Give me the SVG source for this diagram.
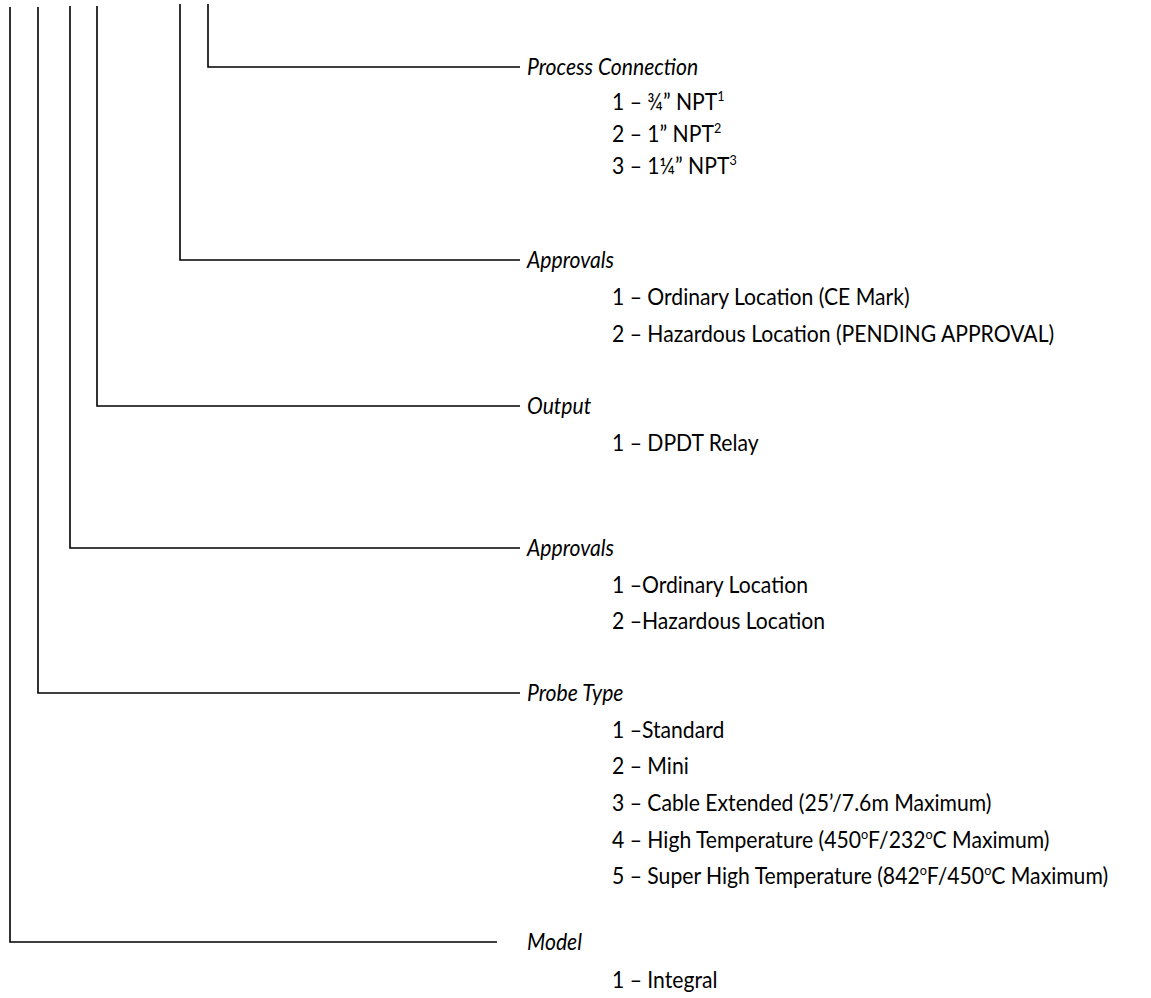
<svg xmlns="http://www.w3.org/2000/svg" width="1151" height="998" viewBox="0 0 1151 998">
<style>
.ln{stroke:#000;stroke-width:1.6;fill:none}
.lbl{font-family:Lato,"Liberation Sans",sans-serif;font-size:23.5px;font-style:italic;fill:#000}
.it{font-family:Lato,"Liberation Sans",sans-serif;font-size:23.5px;fill:#000}
.sup{font-size:14px}
</style>
<rect width="1151" height="998" fill="#fff"/>
<g id="connectors">
<path class="ln" d="M208,4 V67 H520"/>
<path class="ln" d="M180,4 V260 H520"/>
<path class="ln" d="M97,6 V406 H520"/>
<path class="ln" d="M70,6 V548 H520"/>
<path class="ln" d="M38,7 V693 H520"/>
<path class="ln" d="M10,7 V942 H497"/>
</g>
<g id="process-connection">
<text class="lbl" transform="translate(527,0) scale(0.9,1)" x="0" y="75">Process Connection</text>
<text class="it" transform="translate(612,0) scale(0.9,1)" x="0" y="110">1 – ¾” NPT<tspan class="sup" dy="-9">1</tspan></text>
<text class="it" transform="translate(612,0) scale(0.9,1)" x="0" y="142">2 – 1” NPT<tspan class="sup" dy="-9">2</tspan></text>
<text class="it" transform="translate(612,0) scale(0.9,1)" x="0" y="174">3 – 1¼” NPT<tspan class="sup" dy="-9">3</tspan></text>
</g>
<g id="approvals-1">
<text class="lbl" transform="translate(527,0) scale(0.9,1)" x="0" y="268">Approvals</text>
<text class="it" transform="translate(612,0) scale(0.9,1)" x="0" y="305">1 – Ordinary Location (CE Mark)</text>
<text class="it" transform="translate(612,0) scale(0.9,1)" x="0" y="342">2 – Hazardous Location (PENDING APPROVAL)</text>
</g>
<g id="output">
<text class="lbl" transform="translate(527,0) scale(0.9,1)" x="0" y="414">Output</text>
<text class="it" transform="translate(612,0) scale(0.9,1)" x="0" y="451">1 – DPDT Relay</text>
</g>
<g id="approvals-2">
<text class="lbl" transform="translate(527,0) scale(0.9,1)" x="0" y="556">Approvals</text>
<text class="it" transform="translate(612,0) scale(0.9,1)" x="0" y="593">1 –Ordinary Location</text>
<text class="it" transform="translate(612,0) scale(0.9,1)" x="0" y="629">2 –Hazardous Location</text>
</g>
<g id="probe-type">
<text class="lbl" transform="translate(527,0) scale(0.9,1)" x="0" y="701">Probe Type</text>
<text class="it" transform="translate(612,0) scale(0.9,1)" x="0" y="738">1 –Standard</text>
<text class="it" transform="translate(612,0) scale(0.9,1)" x="0" y="774">2 – Mini</text>
<text class="it" transform="translate(612,0) scale(0.9,1)" x="0" y="811">3 – Cable Extended (25’/7.6m Maximum)</text>
<text class="it" transform="translate(612,0) scale(0.9,1)" x="0" y="848">4 – High Temperature (450<tspan class="sup" dy="-9">o</tspan><tspan dy="9">F/232</tspan><tspan class="sup" dy="-9">o</tspan><tspan dy="9">C Maximum)</tspan></text>
<text class="it" transform="translate(612,0) scale(0.9,1)" x="0" y="884">5 – Super High Temperature (842<tspan class="sup" dy="-9">o</tspan><tspan dy="9">F/450</tspan><tspan class="sup" dy="-9">o</tspan><tspan dy="9">C Maximum)</tspan></text>
</g>
<g id="model">
<text class="lbl" transform="translate(527,0) scale(0.9,1)" x="0" y="950">Model</text>
<text class="it" transform="translate(612,0) scale(0.9,1)" x="0" y="988">1 – Integral</text>
</g>
</svg>
